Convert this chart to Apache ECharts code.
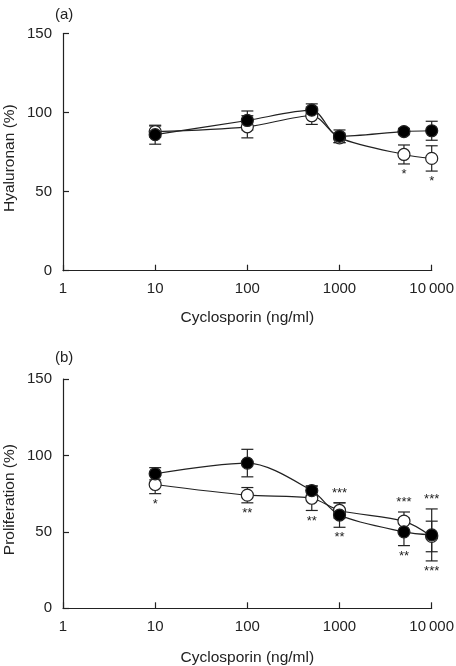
<!DOCTYPE html>
<html>
<head>
<meta charset="utf-8">
<script src="https://cdn.jsdelivr.net/npm/echarts@6/dist/echarts.min.js"></script>
<style>html,body{margin:0;padding:0;background:#fff;}#c{width:456px;height:666px;}</style>
</head>
<body>
<div id="c"></div>
<script>
// ---- data ----
var conc = [10, 100, 500, 1000, 5000, 10000];
var xTickLabels = {1: '1', 10: '10', 100: '100', 1000: '1000', 10000: '10\u2009000'};

var hyaFilled    = [86, 95, 101.5, 85, 88, 88.5];
var hyaFilledErr = [6, 6, 4, 4, 2, 6];
var hyaOpen      = [88, 91, 98, 84, 73.5, 71];
var hyaOpenErr   = [3.5, 7, 5.5, 3, 6, 8];
var hyaOpenStarsBelow = ['', '', '', '', '*', '*'];

var prolFilled    = [88, 95, 77, 61, 50, 48];
var prolFilledErr = [4, 9, 3, 8, 9, 17];
var prolOpen      = [81, 74, 72, 64, 57, 47];
var prolOpenErr   = [6, 5, 8, 5, 6, 10];
var prolOpenStarsBelow   = ['*', '**', '**', '', '', ''];
var prolOpenStarsAbove   = ['', '', '', '***', '***', ''];
var prolFilledStarsBelow = ['', '', '', '**', '**', '***'];
var prolFilledStarsAbove = ['', '', '', '', '', '***'];

var yTicks = [0, 50, 100, 150];

// ---- helpers ----
var INK = '#222';
var FONT = 'Liberation Sans, Arial, Helvetica, sans-serif';

function pairs(xs, ys) { return xs.map(function (x, i) { return [x, ys[i]]; }); }
function errData(xs, ys, es) { return xs.map(function (x, i) { return [x, ys[i], es[i]]; }); }
function starData(xs, ys, es, stars, dir) {
  var out = [];
  xs.forEach(function (x, i) { if (stars[i]) out.push([x, ys[i], es[i], stars[i], dir]); });
  return out;
}

function errSeries(idx, data) {
  return {
    type: 'custom', xAxisIndex: idx, yAxisIndex: idx, z: 2, silent: true,
    data: data,
    renderItem: function (params, api) {
      var x = api.value(0), y = api.value(1), e = api.value(2);
      var top = api.coord([x, y + e]);
      var bot = api.coord([x, y - e]);
      var hw = 6;
      var st = { stroke: INK, lineWidth: 1.2 };
      return {
        type: 'group',
        children: [
          { type: 'line', shape: { x1: top[0], y1: top[1], x2: bot[0], y2: bot[1] }, style: st },
          { type: 'line', shape: { x1: top[0] - hw, y1: top[1], x2: top[0] + hw, y2: top[1] }, style: st },
          { type: 'line', shape: { x1: bot[0] - hw, y1: bot[1], x2: bot[0] + hw, y2: bot[1] }, style: st }
        ]
      };
    }
  };
}

function starSeries(idx, data) {
  return {
    type: 'custom', xAxisIndex: idx, yAxisIndex: idx, z: 5, silent: true,
    data: data,
    renderItem: function (params, api) {
      var x = api.value(0), y = api.value(1), e = api.value(2);
      var d = data[params.dataIndex];
      var txt = d[3], dir = d[4];
      var p = api.coord([x, dir === 'below' ? y - e : y + e]);
      return {
        type: 'text',
        x: p[0],
        y: dir === 'below' ? p[1] + 4 : p[1] - 3,
        style: {
          text: txt, fill: INK, font: '13px ' + FONT,
          align: 'center', verticalAlign: dir === 'below' ? 'top' : 'bottom'
        }
      };
    }
  };
}

function lineSeries(idx, data, filled) {
  return {
    type: 'line', xAxisIndex: idx, yAxisIndex: idx,
    data: data, smooth: 0.3, z: filled ? 4 : 3,
    symbol: 'circle', symbolSize: 12, showSymbol: true,
    lineStyle: { color: INK, width: 1.2 },
    itemStyle: { color: filled ? '#000' : '#fff', borderColor: INK, borderWidth: 1.2 },
    emphasis: { disabled: true }, animation: false
  };
}

function xAxis(idx, gap) {
  return {
    type: 'log', logBase: 10, gridIndex: idx, min: 1, max: 10000,
    name: 'Cyclosporin (ng/ml)', nameLocation: 'middle', nameGap: gap, nameMoveOverlap: false,
    nameTextStyle: { color: INK, fontSize: 15.5, fontFamily: FONT },
    axisLine: { show: true, lineStyle: { color: INK, width: 1.2 } },
    axisTick: { show: true, inside: true, length: 6, lineStyle: { color: INK, width: 1.2 } },
    minorTick: { show: false }, splitLine: { show: false },
    axisLabel: {
      color: INK, fontSize: 15, fontFamily: FONT, margin: 11,
      formatter: function (v) { var r = Math.round(v); return xTickLabels[r] !== undefined ? xTickLabels[r] : ''; }
    }
  };
}

function yAxis(idx, name) {
  return {
    type: 'value', gridIndex: idx, min: yTicks[0], max: yTicks[yTicks.length - 1], interval: 50,
    name: name, nameLocation: 'middle', nameGap: 45, nameRotate: 90, nameMoveOverlap: false,
    nameTextStyle: { color: INK, fontSize: 15.5, fontFamily: FONT, padding: [0, 12, 0, 0] },
    axisLine: { show: true, lineStyle: { color: INK, width: 1.2 } },
    axisTick: { show: true, inside: true, length: 6, lineStyle: { color: INK, width: 1.2 } },
    splitLine: { show: false },
    axisLabel: { color: INK, fontSize: 15, fontFamily: FONT, margin: 11 }
  };
}

var chart = echarts.init(document.getElementById('c'), null, { renderer: 'canvas' });
chart.setOption({
  backgroundColor: '#fff',
  animation: false,
  title: [
    { text: '(a)', left: 50, top: 2, textStyle: { color: INK, fontSize: 15, fontWeight: 'normal', fontFamily: FONT } },
    { text: '(b)', left: 50, top: 345, textStyle: { color: INK, fontSize: 15, fontWeight: 'normal', fontFamily: FONT } }
  ],
  grid: [
    { left: 63, right: 24.3, top: 33.5, height: 237.2, containLabel: false, outerBoundsMode: 'none' },
    { left: 63, right: 24.3, top: 379, height: 229.3, containLabel: false, outerBoundsMode: 'none' }
  ],
  xAxis: [xAxis(0, 39), xAxis(1, 41)],
  yAxis: [yAxis(0, 'Hyaluronan (%)'), yAxis(1, 'Proliferation (%)')],
  series: [
    errSeries(0, errData(conc, hyaOpen, hyaOpenErr)),
    errSeries(0, errData(conc, hyaFilled, hyaFilledErr)),
    lineSeries(0, pairs(conc, hyaOpen), false),
    lineSeries(0, pairs(conc, hyaFilled), true),
    starSeries(0, starData(conc, hyaOpen, hyaOpenErr, hyaOpenStarsBelow, 'below')),

    errSeries(1, errData(conc, prolOpen, prolOpenErr)),
    errSeries(1, errData(conc, prolFilled, prolFilledErr)),
    lineSeries(1, pairs(conc, prolOpen), false),
    lineSeries(1, pairs(conc, prolFilled), true),
    starSeries(1, starData(conc, prolOpen, prolOpenErr, prolOpenStarsBelow, 'below')),
    starSeries(1, starData(conc, prolOpen, prolOpenErr, prolOpenStarsAbove, 'above')),
    starSeries(1, starData(conc, prolFilled, prolFilledErr, prolFilledStarsBelow, 'below')),
    starSeries(1, starData(conc, prolFilled, prolFilledErr, prolFilledStarsAbove, 'above'))
  ]
});
</script>
</body>
</html>
